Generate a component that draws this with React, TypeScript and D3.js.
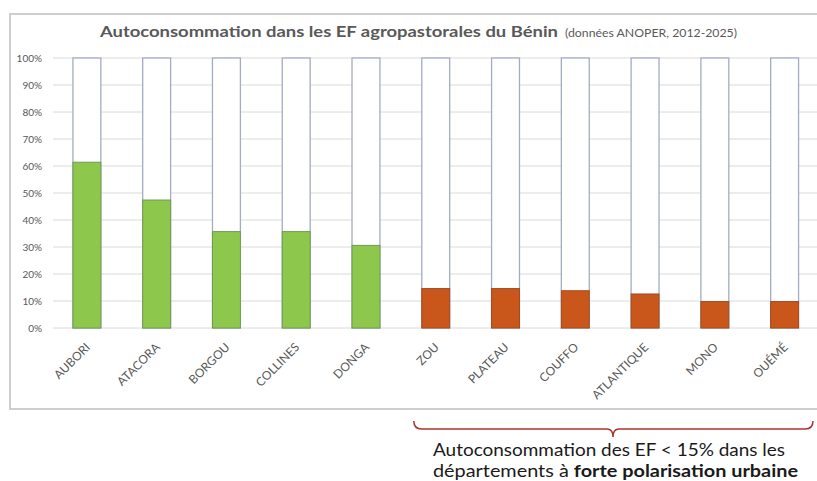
import React from "react";
import * as d3 from "d3";

const categories = ["AUBORI", "ATACORA", "BORGOU", "COLLINES", "DONGA", "ZOU", "PLATEAU", "COUFFO", "ATLANTIQUE", "MONO", "OUÉMÉ"];
const autoconsommation = [0.614, 0.474, 0.357, 0.357, 0.306, 0.146, 0.146, 0.138, 0.126, 0.098, 0.098];
const groupe = ["rural", "rural", "rural", "rural", "rural", "urbain", "urbain", "urbain", "urbain", "urbain", "urbain"];
const yTicks = [0, 0.1, 0.2, 0.3, 0.4, 0.5, 0.6, 0.7, 0.8, 0.9, 1];

const W = 817;
const H = 481;
const FONT = "Lato, 'Open Sans', 'Liberation Sans', sans-serif";

export default function App() {
  const x = d3.scaleBand<string>().domain(categories).range([52, 819.5]).paddingInner(0.6).paddingOuter(0.3);
  const y = d3.scaleLinear().domain([0, 1]).range([328, 58]);
  const fmt = d3.format(".0%");
  const fill = (g: string) => (g === "rural" ? "#8dc84c" : "#c9561a");
  const stroke = (g: string) => (g === "rural" ? "#6f9a55" : "#a54a1e");

  const bx0 = x("ZOU")! - 8;
  const bx1 = 813;
  const bmid = 613;

  return (
    <svg width={W} height={H} style={{ position: "absolute", left: 0, top: 0, background: "#fff" }} fontFamily={FONT}>
      <rect x={10} y={14} width={830} height={395} fill="#fff" stroke="#bcbfc4" strokeWidth={1.5} />
      <text x={100} y={37} fontSize={15.5} fontWeight="bold" fill="#595959" textLength={458} lengthAdjust="spacingAndGlyphs">
        Autoconsommation dans les EF agropastorales du Bénin
      </text>
      <text x={565} y={37} fontSize={10.5} fill="#595959" textLength={172} lengthAdjust="spacingAndGlyphs">
        (données ANOPER, 2012-2025)
      </text>

      {yTicks.map((t) => (
        <g key={t}>
          <line x1={53} x2={W} y1={y(t)} y2={y(t)} stroke="#dadada" strokeWidth={1} />
          <text x={42} y={y(t)} dy="0.35em" textAnchor="end" fontSize={10} fill="#595959">
            {fmt(t)}
          </text>
        </g>
      ))}

      {categories.map((c, i) => (
        <g key={c}>
          <rect x={x(c)!} y={y(1)} width={x.bandwidth()} height={y(0) - y(1)} fill="#fff" stroke="#a3acc2" strokeWidth={1.3} />
          <rect
            x={x(c)!}
            y={y(autoconsommation[i])}
            width={x.bandwidth()}
            height={y(0) - y(autoconsommation[i])}
            fill={fill(groupe[i])}
            stroke={stroke(groupe[i])}
            strokeWidth={1}
          />
          <text
            transform={`translate(${x(c)! + x.bandwidth() / 2 + 4},${348}) rotate(-45)`}
            textAnchor="end"
            fontSize={12}
            fill="#595959"
          >
            {c}
          </text>
        </g>
      ))}

      <path
        d={`M${bx0},421 Q${bx0},429 ${bx0 + 8},429 H${bmid - 6} Q${bmid},429 ${bmid},437 Q${bmid},429 ${bmid + 6},429 H${bx1 - 8} Q${bx1},429 ${bx1},421`}
        fill="none"
        stroke="#a8342f"
        strokeWidth={1.5}
      />
      <text x={433} y={456} fontSize={17.5} fill="#1a1a1a" textLength={352} lengthAdjust="spacingAndGlyphs">
        Autoconsommation des EF &lt; 15% dans les
      </text>
      <text x={433} y={477} fontSize={17.5} fill="#1a1a1a" textLength={365} lengthAdjust="spacingAndGlyphs">
        <tspan>départements à </tspan>
        <tspan fontWeight="bold">forte polarisation urbaine</tspan>
      </text>
    </svg>
  );
}
